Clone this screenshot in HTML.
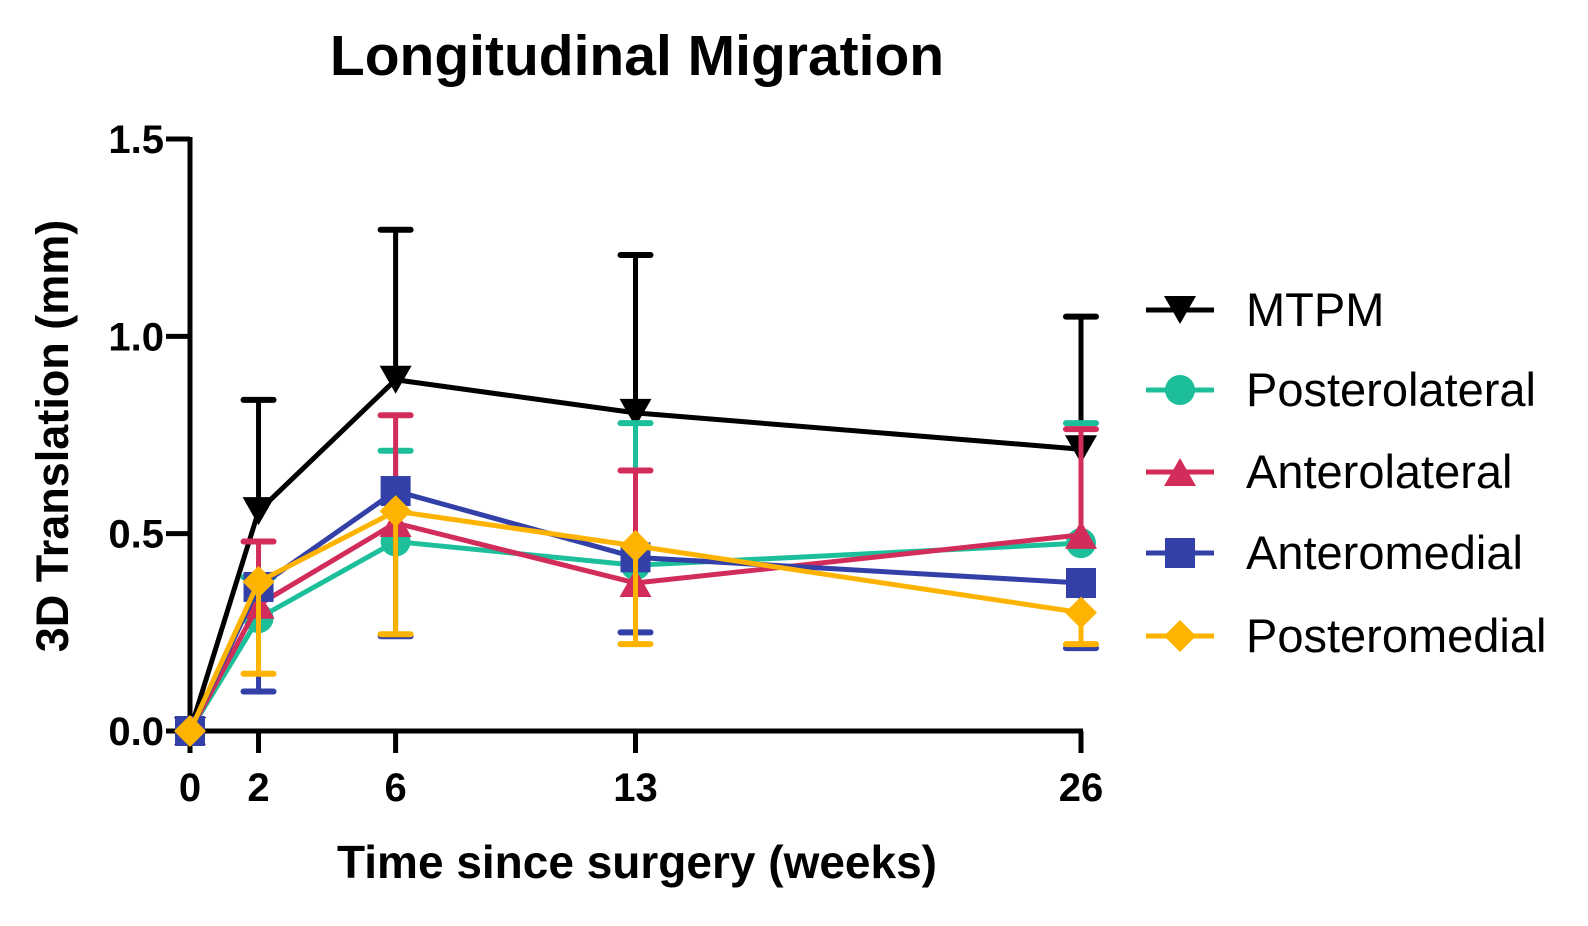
<!DOCTYPE html>
<html><head><meta charset="utf-8"><style>
html,body{margin:0;padding:0;background:#fff}
svg{display:block;font-family:"Liberation Sans",Arial,sans-serif}
</style></head><body>
<svg id="chart" width="1588" height="926" viewBox="0 0 1588 926">
<text x="637" y="75" text-anchor="middle" font-size="57" font-weight="bold">Longitudinal Migration</text>
<g id="axes"></g><g id="plot"></g><g id="legend"></g>
<text x="637" y="878" text-anchor="middle" font-size="46" font-weight="bold">Time since surgery (weeks)</text>
<text transform="translate(68,436) rotate(-90)" text-anchor="middle" font-size="45" font-weight="bold">3D Translation (mm)</text>
</svg>
<script>
const weeks=[0,2,6,13,26];
const yTicks=[0,0.5,1.0,1.5];
const yTickLabels=["0.0","0.5","1.0","1.5"];
const seriesNames=["MTPM","Posterolateral","Anterolateral","Anteromedial","Posteromedial"];
const mtpm=[0,0.557,0.89,0.806,0.714];
const mtpmErr=[null,0.839,1.27,1.206,1.05];
const postLat=[0,0.286,0.48,0.42,0.476];
const postLatErr=[null,0.39,0.71,0.78,0.78];
const antLat=[0,0.32,0.527,0.375,0.497];
const antLatErr=[null,0.48,0.80,0.66,0.765];
const antMed=[0,0.365,0.608,0.44,0.375];
const antMedErr=[null,0.10,0.24,0.25,0.21];
const postMed=[0,0.378,0.557,0.469,0.30];
const postMedErr=[null,0.145,0.245,0.22,0.22];
const colors=["#000000","#1dbf9b","#d22c5a","#3340a8","#fdb300"];
const markers=["tri","circle","tri-up","square","diamond"];
const NS="http://www.w3.org/2000/svg";
const x0=190,xw=(1081-190)/26,y0=731,yk=(731-139)/1.5;
const X=w=>x0+w*xw, Y=v=>y0-v*yk;
function mk(tag,attrs,parent){const e=document.createElementNS(NS,tag);for(const k in attrs)e.setAttribute(k,attrs[k]);parent.appendChild(e);return e;}
const axes=document.getElementById('axes'),plot=document.getElementById('plot'),legend=document.getElementById('legend');
let e=mk('line',{x1:x0,y1:Y(1.5)-2,x2:x0,y2:y0+2,stroke:'#000','stroke-width':5},axes);

e=mk('line',{x1:x0-2,y1:y0,x2:X(26)+2,y2:y0,stroke:'#000','stroke-width':5},axes);

yTicks.forEach((t,i)=>{
  const l=mk('line',{x1:x0-24,y1:Y(t),x2:x0,y2:Y(t),stroke:'#000','stroke-width':5},axes);
  
  const tx=mk('text',{x:x0-26,y:Y(t)+14,'text-anchor':'end','font-size':40,'font-weight':'bold'},axes);
  tx.textContent=yTickLabels[i];
  
});
weeks.forEach(w=>{
  const l=mk('line',{x1:X(w),y1:y0,x2:X(w),y2:y0+22,stroke:'#000','stroke-width':5},axes);
  
  const tx=mk('text',{x:X(w),y:y0+70,'text-anchor':'middle','font-size':40,'font-weight':'bold'},axes);
  tx.textContent=String(w);
  
});
function marker(type,cx,cy,col,parent){
  let m;
  if(type==='circle')m=mk('circle',{cx,cy,r:15,fill:col},parent);
  else if(type==='square')m=mk('rect',{x:cx-15,y:cy-15,width:30,height:30,fill:col},parent);
  else if(type==='diamond')m=mk('polygon',{points:`${cx},${cy-16} ${cx+16},${cy} ${cx},${cy+16} ${cx-16},${cy}`,fill:col},parent);
  else if(type==='tri')m=mk('polygon',{points:`${cx-16},${cy-14} ${cx+16},${cy-14} ${cx},${cy+14}`,fill:col},parent);
  else m=mk('polygon',{points:`${cx-16},${cy+14} ${cx+16},${cy+14} ${cx},${cy-14}`,fill:col},parent);
  return m;
}
const allVals=[mtpm,postLat,antLat,antMed,postMed];
const allErr=[mtpmErr,postLatErr,antLatErr,antMedErr,postMedErr];
allVals.forEach((vals,s)=>{
  const g=mk('g',{},plot);
  
  const col=colors[s];
  allErr[s].forEach((ev,i)=>{
    if(ev===null)return;
    const b=mk('line',{x1:X(weeks[i]),y1:Y(vals[i]),x2:X(weeks[i]),y2:Y(ev),stroke:col,'stroke-width':5},g);
    
    const c=mk('line',{x1:X(weeks[i])-15,y1:Y(ev),x2:X(weeks[i])+15,y2:Y(ev),stroke:col,'stroke-width':6,'stroke-linecap':'round'},g);
    
  });
  const p=mk('polyline',{points:vals.map((v,i)=>X(weeks[i])+','+Y(v)).join(' '),fill:'none',stroke:col,'stroke-width':5,'stroke-linejoin':'round'},g);
  
  vals.forEach((v,i)=>{
    const m=marker(markers[s],X(weeks[i]),Y(v),col,g);
    
  });
});
const legY=[310,390,472,553,636];
seriesNames.forEach((n,s)=>{
  const g=mk('g',{},legend);
  
  mk('line',{x1:1146,y1:legY[s],x2:1214,y2:legY[s],stroke:colors[s],'stroke-width':5},g);
  marker(markers[s],1180,legY[s],colors[s],g);
  const t=mk('text',{x:1246,y:legY[s]+16,'font-size':47},g);
  t.textContent=n;
});
</script>
</body></html>
